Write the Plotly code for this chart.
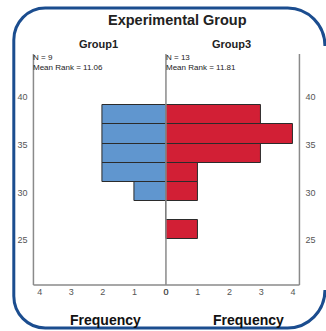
import plotly.graph_objects as go

# Data
bin_centers = [26.1, 28.1, 30.1, 32.1, 34.1, 36.1, 38.1]
group1_freq = [0, 0, 1, 2, 2, 2, 2]
group3_freq = [1, 0, 1, 1, 3, 4, 3]
bin_width = 2
freq_ticks = [0, 1, 2, 3, 4]
y_ticks = [25, 30, 35, 40]
title = "Experimental Group"
panel_titles = ["Group1", "Group3"]
panel_n = ["N = 9", "N = 13"]
panel_rank = ["Mean Rank = 11.06", "Mean Rank = 11.81"]

W, H = 326, 331
def px(x):
    return x / W
def py(y):
    return 1 - y / H

xl, xc, xr = 31, 166, 302
yt, yb = 54, 285
yrange = [20.33, 44.46]
xmax = 4.2

fig = go.Figure()
fig.add_trace(go.Bar(y=bin_centers, x=group1_freq, orientation="h", width=bin_width,
                     marker=dict(color="#6096cf", line=dict(color="#2b2b2b", width=1)),
                     xaxis="x", yaxis="y", showlegend=False))
fig.add_trace(go.Bar(y=bin_centers, x=group3_freq, orientation="h", width=bin_width,
                     marker=dict(color="#d21f35", line=dict(color="#2b2b2b", width=1)),
                     xaxis="x2", yaxis="y2", showlegend=False))

tickfont = dict(family="Liberation Sans, Arial", size=9, color="#555555")
fig.update_layout(
    width=W, height=H, margin=dict(l=0, r=0, t=0, b=0),
    paper_bgcolor="white", plot_bgcolor="white", bargap=0,
    xaxis=dict(domain=[px(xl), px(xc)], range=[xmax, 0], tickvals=freq_ticks,
               showgrid=False, zeroline=False, showline=False, ticks="",
               tickfont=tickfont, fixedrange=True),
    xaxis2=dict(domain=[px(xc), px(xr)], range=[0, xmax], tickvals=freq_ticks,
                showgrid=False, zeroline=False, showline=False, ticks="",
                tickfont=tickfont, fixedrange=True),
    yaxis=dict(domain=[py(yb), py(yt)], range=yrange, tickvals=y_ticks, anchor="x",
               showgrid=False, zeroline=False, showline=False, ticks="",
               tickfont=tickfont, ticklabelstandoff=5),
    yaxis2=dict(domain=[py(yb), py(yt)], range=yrange, tickvals=y_ticks, anchor="x2",
                side="right", showgrid=False, zeroline=False, showline=False, ticks="",
                tickfont=tickfont, ticklabelstandoff=5),
)

line = dict(color="#8a8a8a", width=1.5)
shapes = [
    dict(type="line", xref="paper", yref="paper", x0=px(xl), x1=px(xl), y0=py(yt), y1=py(yb), line=line),
    dict(type="line", xref="paper", yref="paper", x0=px(xc), x1=px(xc), y0=py(yt), y1=py(yb), line=line),
    dict(type="line", xref="paper", yref="paper", x0=px(xr), x1=px(xr), y0=py(yt), y1=py(yb), line=line),
    dict(type="line", xref="paper", yref="paper", x0=px(xl), x1=px(xr), y0=py(yb), y1=py(yb), line=line),
]
# rounded frame, open on the right (its right side lies outside the picture)
L, T, B, rl = 11, 8, 328, 32
cx, r = 290, 38      # right-corner circle centre x and radius
k = 0.5523
def P(x, y):
    return f"{px(x)},{py(y)}"
path = (f"M {P(cx + r, T + r)} "
        f"C {P(cx + r, T + r - k*r)} {P(cx + k*r, T)} {P(cx, T)} "
        f"L {P(L + rl, T)} "
        f"C {P(L + rl - k*rl, T)} {P(L, T + rl - k*rl)} {P(L, T + rl)} "
        f"L {P(L, B - rl)} "
        f"C {P(L, B - rl + k*rl)} {P(L + rl - k*rl, B)} {P(L + rl, B)} "
        f"L {P(cx, B)} "
        f"C {P(cx + k*r, B)} {P(cx + r, B - r + k*r)} {P(cx + r, B - r)}")
shapes.append(dict(type="path", xref="paper", yref="paper", path=path,
                   line=dict(color="#1b4d8f", width=3), fillcolor="rgba(0,0,0,0)"))
fig.update_layout(shapes=shapes)

font = "Liberation Sans, Arial"
ann = [
    dict(text=f"<b>{title}</b>", x=px(178), y=py(20), font=dict(size=14.5, family=font, color="#222")),
    dict(text=f"<b>{panel_titles[0]}</b>", x=px(97), y=py(44), font=dict(size=11, family=font, color="#222")),
    dict(text=f"<b>{panel_titles[1]}</b>", x=px(233), y=py(44), font=dict(size=11, family=font, color="#222")),
    dict(text="<b>Frequency</b>", x=px(104), y=py(320), font=dict(size=14, family=font, color="#111")),
    dict(text="<b>Frequency</b>", x=px(250), y=py(320), font=dict(size=14, family=font, color="#111")),
]
for a in ann:
    a.update(xref="paper", yref="paper", showarrow=False, xanchor="center", yanchor="middle")
for xs, n, mr in [(30, panel_n[0], panel_rank[0]), (165, panel_n[1], panel_rank[1])]:
    ann.append(dict(text=f"{n}<br>{mr}", x=px(xs), y=py(52), xref="paper", yref="paper",
                    showarrow=False, xanchor="left", yanchor="top", align="left", borderpad=0,
                    font=dict(size=8, family=font, color="#222")))
fig.update_layout(annotations=ann)

fig.write_html("out.html", config={"displayModeBar": False},
               post_script="document.body.style.margin='0';document.body.style.overflow='hidden';")
